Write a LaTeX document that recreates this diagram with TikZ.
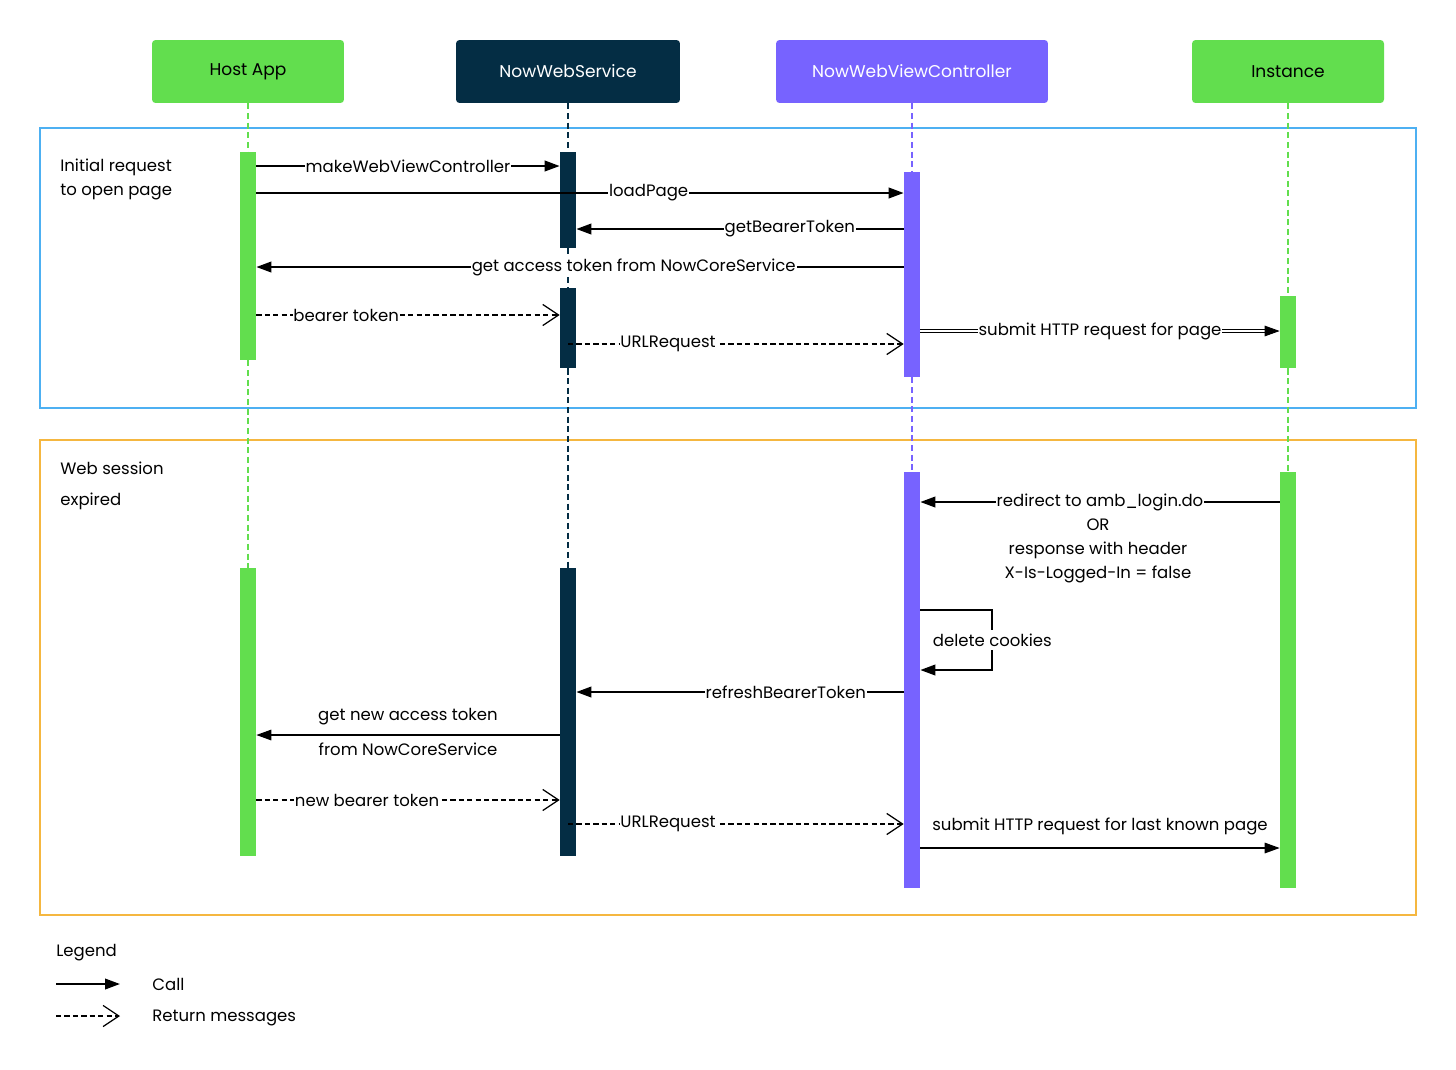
\documentclass[tikz,border=0pt]{standalone}
\usepackage{fontspec}
\setmainfont{Poppins}
\setsansfont{Poppins}
\usetikzlibrary{arrows.meta, positioning, calc}

\begin{document}
\begin{tikzpicture}[x=0.02cm, y=-0.02cm, font=\sffamily\fontsize{9.4}{11}\selectfont, >=LaTeX]

    % --- DEFINITIONS ---
    \definecolor{hostGreen}{RGB}{98, 222, 78}    % Host App / Instance
    \definecolor{serviceNavy}{RGB}{4, 45, 68}    % NowWebService
    \definecolor{ctrlPurple}{RGB}{119, 99, 255}  % NowWebViewController
    \definecolor{frameBlue}{RGB}{77, 176, 242}
    \definecolor{frameOrange}{RGB}{245, 183, 64}

    \tikzset{
        party/.style={rectangle, rounded corners=2pt, minimum height=1.26cm, inner sep=0pt, font=\sffamily\fontsize{9.7}{11}\selectfont},
        actbar/.style={rectangle, minimum width=0.32cm, inner sep=0pt},
        lifeline/.style={line width=1.1pt, dash pattern=on 3.5pt off 2pt},
        call/.style={line width=1.1pt, -{Triangle[length=8.5pt, width=6pt]}},
        thincall/.style={line width=0.7pt, -{Triangle[length=8.5pt, width=6pt]}},
        ret/.style={line width=0.85pt, dash pattern=on 3pt off 1.8pt, -{Straight Barb[length=9pt, width=12pt, line width=0.7pt]}},
        msglbl/.style={fill=white, inner sep=0.5pt, text=black},
        framebox/.style={line width=1.1pt}
    }

    \useasboundingbox (0,0) rectangle (1456,1069);

    % --- PARTICIPANTS ---
    \node[party, fill=hostGreen, minimum width=3.84cm] (host) at (248,71.5) {Host App};
    \node[party, fill=serviceNavy, text=white, minimum width=4.48cm] (nws) at (568,71.5) {NowWebService};
    \node[party, fill=ctrlPurple, text=white, minimum width=5.44cm] (ctrl) at (912,71.5) {NowWebViewController};
    \node[party, fill=hostGreen, minimum width=3.84cm] (inst) at (1288,71.5) {Instance};

    % --- FRAMES ---
    \draw[framebox, frameBlue] (40,128) rectangle (1416,408);
    \draw[framebox, frameOrange] (40,440) rectangle (1416,915);
    \node[anchor=west, align=left, inner sep=0pt, font=\sffamily\fontsize{9.4}{13.6}\selectfont] (initLbl) at (60,179) {Initial request\\to open page};
    \node[anchor=west, align=left, inner sep=0pt, font=\sffamily\fontsize{9.4}{18}\selectfont] (expLbl) at (60,486) {Web session\\expired};

    % --- ACTIVATIONS ---
    \node[actbar, fill=hostGreen, minimum height=4.16cm] (hostA1) at (248,256) {};
    \node[actbar, fill=hostGreen, minimum height=5.76cm] (hostA2) at (248,712) {};
    \node[actbar, fill=serviceNavy, minimum height=1.92cm] (nwsA1) at (568,200) {};
    \node[actbar, fill=serviceNavy, minimum height=1.6cm] (nwsA2) at (568,328) {};
    \node[actbar, fill=serviceNavy, minimum height=5.76cm] (nwsA3) at (568,712) {};
    \node[actbar, fill=ctrlPurple, minimum height=4.1cm] (ctrlA1) at (912,274.5) {};
    \node[actbar, fill=ctrlPurple, minimum height=8.32cm] (ctrlA2) at (912,680) {};
    \node[actbar, fill=hostGreen, minimum height=1.44cm] (instA1) at (1288,332) {};
    \node[actbar, fill=hostGreen, minimum height=8.32cm] (instA2) at (1288,680) {};

    % Lifelines between the bars
    \draw[lifeline, hostGreen] (host.south) -- (hostA1.north);
    \draw[lifeline, hostGreen] (hostA1.south) -- (hostA2.north);
    \draw[lifeline, serviceNavy] (nws.south) -- (nwsA1.north);
    \draw[lifeline, serviceNavy] (nwsA1.south) -- (nwsA2.north);
    \draw[lifeline, serviceNavy] (nwsA2.south) -- (nwsA3.north);
    \draw[lifeline, ctrlPurple] (ctrl.south) -- (ctrlA1.north);
    \draw[lifeline, ctrlPurple] (ctrlA1.south) -- (ctrlA2.north);
    \draw[lifeline, hostGreen] (inst.south) -- (instA1.north);
    \draw[lifeline, hostGreen] (instA1.south) -- (instA2.north);

    % --- INITIAL REQUEST ---
    \draw[call] (hostA1.east |- 0,166) -- (nwsA1.west |- 0,166)
        node[msglbl, pos=0.5] (mMake) {makeWebViewController};
    \draw[call] (hostA1.east |- 0,193) -- (ctrlA1.west |- 0,193)
        node[msglbl, pos=0.606] (mLoad) {loadPage};
    \draw[call] (ctrlA1.west |- 0,229) -- (nwsA1.east |- 0,229)
        node[msglbl, pos=0.348] (mGetBearer) {getBearerToken};
    \draw[call] (ctrlA1.west |- 0,267) -- (hostA1.east |- 0,267)
        node[msglbl, pos=0.417] (mAccess) {get access token from NowCoreService};
    \draw[ret] (hostA1.east |- 0,315) -- (nwsA2.west |- 0,315)
        node[msglbl, pos=0.296] (mBearer) {bearer token};
    \draw[ret] (nwsA2.center |- 0,344) -- (ctrlA1.west |- 0,344)
        node[msglbl, pos=0.298] (mUrl1) {URLRequest};
    \draw[line width=0.5pt, double, double distance=0.9pt, -{Triangle[length=8.5pt, width=6pt]}]
        (ctrlA1.east |- 0,331) -- (instA1.west |- 0,331)
        node[msglbl, pos=0.5] (mSubmit1) {submit HTTP request for page};

    % --- WEB SESSION EXPIRED ---
    \draw[call] (instA2.west |- 0,502) -- (ctrlA2.east |- 0,502)
        node[msglbl, pos=0.5] (mRedir) {redirect to amb\_login.do};
    \node[align=center, font=\sffamily\fontsize{9.4}{13.6}\selectfont] (mRedirNote) at (1098,551)
        {OR\\response with header\\X-Is-Logged-In = false};
    \draw[call] (ctrlA2.east |- 0,610) -- ++(72,0) -- ++(0,60)
        node[msglbl, midway, inner sep=2pt] (mDelete) {delete cookies} -- (ctrlA2.east |- 0,670);
    \draw[call] (ctrlA2.west |- 0,692) -- (nwsA3.east |- 0,692)
        node[msglbl, pos=0.36] (mRefresh) {refreshBearerToken};
    \draw[thincall] (nwsA3.west |- 0,735) -- (hostA2.east |- 0,735)
        node[pos=0.5, above=2pt] (mNewAccess) {get new access token}
        node[pos=0.5, below=1pt] (mNewAccessB) {from NowCoreService};
    \draw[ret] (hostA2.east |- 0,800) -- (nwsA3.west |- 0,800)
        node[msglbl, pos=0.365] (mNewBearer) {new bearer token};
    \draw[ret] (nwsA3.center |- 0,824) -- (ctrlA2.west |- 0,824)
        node[msglbl, pos=0.298] (mUrl2) {URLRequest};
    \draw[thincall] (ctrlA2.east |- 0,848) -- (instA2.west |- 0,848)
        node[pos=0.5, above=4pt] (mSubmit2) {submit HTTP request for last known page};

    % --- LEGEND ---
    \node[anchor=west, inner sep=0pt] (legTitle) at (56,953) {Legend};
    \coordinate (legCallA) at (56,984);
    \coordinate (legCallB) at (120,984);
    \coordinate (legRetA) at (56,1016);
    \coordinate (legRetB) at (120,1016);
    \draw[call] (legCallA) -- (legCallB);
    \draw[ret] (legRetA) -- (legRetB);
    \node[anchor=west, inner sep=0pt] (legCall) at (152,984) {Call};
    \node[anchor=west, inner sep=0pt] (legRet) at (152,1018) {Return messages};
\end{tikzpicture}
\end{document}
